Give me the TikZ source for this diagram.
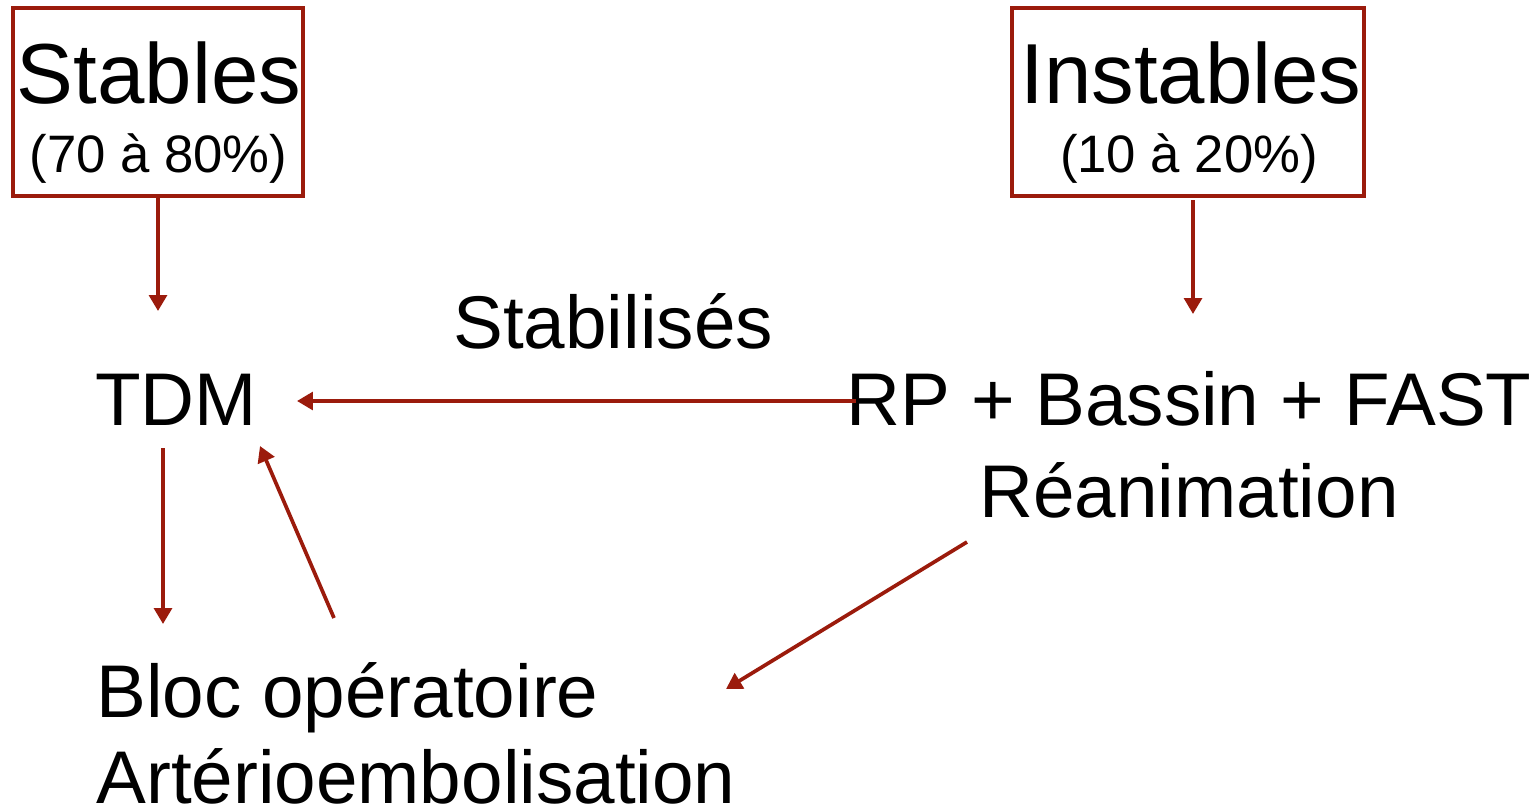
\documentclass[tikz,border=0pt]{standalone}
\usepackage{fontspec}
\setmainfont{Liberation Sans}
\usetikzlibrary{arrows.meta}
\definecolor{dred}{RGB}{155,27,12}
\tikzset{
  frame/.style={draw=dred, line width=2pt, inner sep=0pt, rectangle},
  big/.style={inner sep=0pt, font=\fontsize{48.5}{58}\selectfont},
  small/.style={inner sep=0pt, font=\fontsize{30}{36}\selectfont},
  txt/.style={inner sep=0pt, font=\fontsize{42.5}{51}\selectfont},
  conn/.style={draw=dred, line width=2.1pt, -{Triangle[length=9pt,width=10pt]}}
}
\begin{document}
\begin{tikzpicture}[x=0.02cm,y=-0.02cm]
\useasboundingbox (0,0) rectangle (1535,811);
% boxes
\node[frame, minimum width=5.8cm, minimum height=3.76cm] (stbox) at (158,102) {};
\node[frame, minimum width=7.04cm, minimum height=3.76cm] (inbox) at (1188,102) {};
% texts
\node[big, anchor=base] (stables) at (159,104) {Stables};
\node[small, anchor=base] (stpct) at (158.5,173) {(70 à 80\%)};
\node[big, anchor=base] (instables) at (1191,104) {Instables};
\node[small, anchor=base] (inpct) at (1189,173) {(10 à 20\%)};
\node[txt, anchor=base west] (tdm) at (95,425) {TDM};
\node[txt, anchor=base west] (stab) at (453,348) {Stabilisés};
\node[txt, anchor=base] (rp) at (1189,425) {RP + Bassin + FAST};
\node[txt, anchor=base] (rea) at (1189,517) {Réanimation};
\node[txt, anchor=base west] (bloc) at (96,717) {Bloc opératoire};
\node[txt, anchor=base west] (arterio) at (96,803) {Artérioembolisation};
% connector end points
\coordinate (s1) at (stbox.south);
\coordinate (s2) at (158,311);
\coordinate (i1) at (1193,200);
\coordinate (i2) at (1193,314);
\coordinate (h1) at (856,401);
\coordinate (h2) at (297,401);
\coordinate (d1) at (163,448);
\coordinate (d2) at (163,624);
\coordinate (u1) at (334,618);
\coordinate (u2) at (260,446);
\coordinate (r1) at (967,542);
\coordinate (r2) at (726,689);
% connectors
\draw[conn] (s1) -- (s2);
\draw[conn] (i1) -- (i2);
\draw[conn] (h1) -- (h2);
\draw[conn] (d1) -- (d2);
\draw[conn] (u1) -- (u2);
\draw[conn] (r1) -- (r2);
\end{tikzpicture}
\end{document}
